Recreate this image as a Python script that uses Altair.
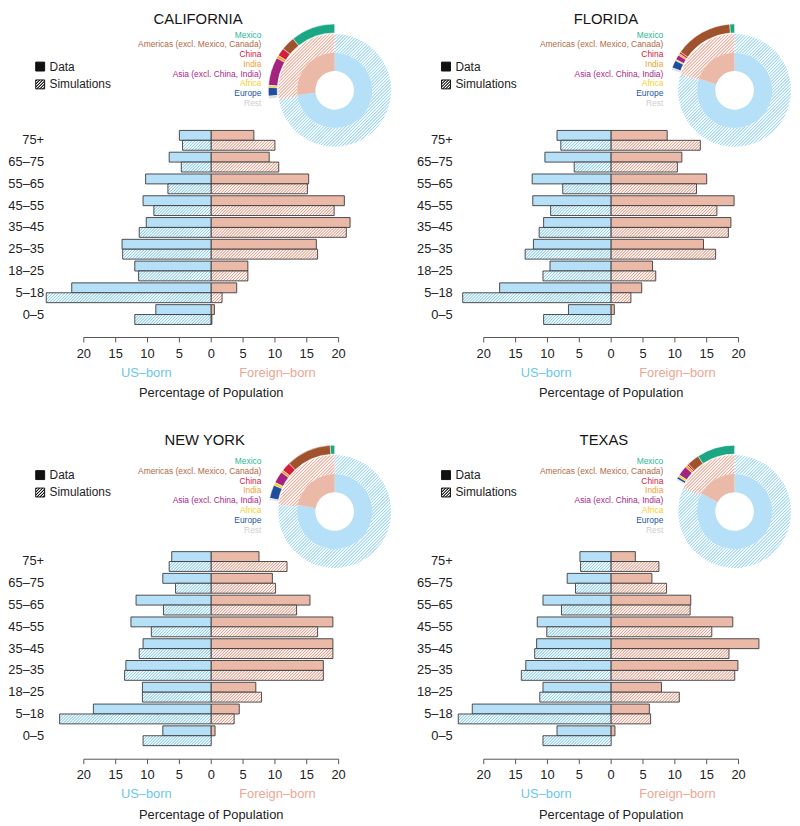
import math
import altair as alt

# ---------------- data ----------------
AGES = ["75+", "65–75", "55–65", "45–55", "35–45", "25–35", "18–25", "5–18", "0–5"]
TICKS = [-20, -15, -10, -5, 0, 5, 10, 15, 20]

CA_US_DATA = [5.0, 6.6, 10.3, 10.7, 10.2, 14.0, 12.0, 21.9, 8.7]
CA_US_SIM = [4.5, 4.7, 6.8, 9.0, 11.3, 13.9, 11.4, 25.9, 12.0]
CA_FB_DATA = [6.7, 9.1, 15.3, 20.9, 21.8, 16.5, 5.75, 4.0, 0.5]
CA_FB_SIM = [10.0, 10.6, 15.1, 19.3, 21.2, 16.7, 5.75, 1.7, 0.1]

FL_US_DATA = [8.5, 10.4, 12.4, 12.3, 10.6, 12.2, 9.6, 17.5, 6.7]
FL_US_SIM = [7.9, 5.8, 7.6, 9.5, 11.3, 13.5, 10.7, 23.3, 10.6]
FL_FB_DATA = [8.8, 11.1, 15.0, 19.3, 18.8, 14.5, 6.5, 4.8, 0.5]
FL_FB_SIM = [14.0, 10.4, 13.4, 16.6, 18.4, 16.4, 7.0, 3.1, 0.0]

NY_US_DATA = [6.2, 7.6, 11.8, 12.6, 10.7, 13.4, 10.8, 18.5, 7.6]
NY_US_SIM = [6.6, 5.6, 7.5, 9.4, 11.3, 13.6, 10.8, 23.8, 10.7]
NY_FB_DATA = [7.5, 9.6, 15.5, 19.1, 19.1, 17.6, 7.0, 4.4, 0.6]
NY_FB_SIM = [11.9, 10.1, 13.4, 16.7, 19.1, 17.6, 7.9, 3.6, 0.0]

TX_US_DATA = [4.9, 6.9, 10.7, 11.6, 11.7, 13.4, 10.7, 21.8, 8.5]
TX_US_SIM = [4.8, 5.6, 7.8, 10.1, 12.0, 14.1, 11.2, 24.0, 10.7]
TX_FB_DATA = [3.8, 6.4, 12.5, 19.1, 23.2, 19.9, 7.9, 6.0, 0.6]
TX_FB_SIM = [7.5, 8.7, 12.4, 15.8, 18.5, 19.4, 10.7, 6.2, 0.0]

REGIONS = ["Mexico", "Americas (excl. Mexico, Canada)", "China", "India",
           "Asia (excl. China, India)", "Africa", "Europe", "Rest"]
REGION_COLORS = ["#1ba784", "#a0522d", "#d31f3c", "#f4a11d",
                 "#a3237f", "#f7d21c", "#1f4e9e", "#d9d9d9"]
LABEL_COLORS = ["#2ab795", "#b06a48", "#d0203f", "#f2a032",
                "#a8288a", "#f5d02a", "#2456a6", "#cfcfcf"]

CA_REGIONS = [10.8, 3.4, 2.0, 0.7, 6.9, 0.5, 2.1, 0.6]
FL_REGIONS = [1.2, 14.0, 0.5, 0.4, 1.2, 0.3, 1.9, 0.5]
NY_REGIONS = [1.1, 11.0, 2.2, 0.6, 2.9, 0.7, 3.3, 0.4]
TX_REGIONS = [9.3, 3.0, 0.4, 0.6, 2.4, 0.5, 0.6, 0.3]

CA_SHARE_DATA, CA_SHARE_SIM = 27.0, 27.5
FL_SHARE_DATA, FL_SHARE_SIM = 20.0, 20.5
NY_SHARE_DATA, NY_SHARE_SIM = 22.2, 23.0
TX_SHARE_DATA, TX_SHARE_SIM = 17.1, 18.0

# ---------------- style ----------------
US_SOLID = "#b5e0f7"
FB_SOLID = "#ebb9a8"
US_LINE = "#8dcff2"
FB_LINE = "#eaa28e"
US_RING_LINE = "#9fd6f4"
FB_RING_LINE = "#efac9a"
BAR_STROKE = "#3a3a3a"
AXIS_COLOR = "#555555"
TEXT_COLOR = "#222222"
FONT = "Liberation Sans"

K = 6.435          # px per percentage point
X0 = 205.3         # px position of zero
XSCALE = alt.Scale(domain=[-26, 26], range=[X0 - 26 * K, X0 + 26 * K])
YSCALE = alt.Scale(type="band", domain=AGES, range=[119.5, 315.5],
                   paddingInner=2 / 22, paddingOuter=0)
BAR_H = 10.0
CX, CY = 330, 79
R0, R1, R2, R3, R4 = 19.5, 38, 57, 58, 67
PANEL_W = 388


def hatch(W, H, color, Q=3.0, bg="#ffffff"):
    """Diagonal '/' stripes as a linear gradient in the item's bounding box."""
    if W <= 0.3 or H <= 0.3:
        return bg
    L = W + H
    s = L * W / (W * W + H * H)
    stops = []
    k = 0
    while k * Q / L < 1:
        base = k * Q
        for frac, c in [(0.0, bg), (0.28, color), (0.46, color), (0.74, bg)]:
            off = (base + frac * Q) / L
            if off <= 1:
                stops.append({"offset": round(off, 5), "color": c})
        k += 1
    return {"gradient": "linear", "x1": 0, "y1": 0, "x2": round(s, 5),
            "y2": round(s * H / W, 5), "stops": stops}


def arc_bbox(t0, t1, r_in, r_out):
    xs, ys = [], []
    n = 240
    for i in range(n + 1):
        a = (t0 + (t1 - t0) * i / n) / 100 * 2 * math.pi
        for r in (r_in, r_out):
            xs.append(r * math.sin(a))
            ys.append(-r * math.cos(a))
    return max(xs) - min(xs), max(ys) - min(ys)


def theta_enc():
    return dict(theta=alt.Theta("t0:Q", scale=alt.Scale(domain=[0, 100]), stack=None),
                theta2=alt.Theta2("t1:Q"),
                x=alt.value(CX), y=alt.value(CY),
                color=alt.Color("fc:N", scale=None))


def panel(name, us_d, us_s, fb_d, fb_s, regions, share_d, share_s, lay):
    H = lay["H"]
    ax_y = lay["ax_y"]
    layers = []

    # title
    layers.append(alt.Chart(alt.Data(values=[{}])).mark_text(
        text=name, fontSize=15, baseline="top", align="center", color="#151515"
    ).encode(x=alt.value(lay["title_x"]), y=alt.value(0)))

    # legend
    lx = lay["leg_x"]
    for (ly, lab, fill) in [(lay["leg_y"][0], "Data", "#111111"),
                            (lay["leg_y"][1], "Simulations", hatch(9, 9, "#111111", Q=3.0))]:
        layers.append(alt.Chart(alt.Data(values=[{}])).mark_rect(
            fill=fill, stroke="#111111", strokeWidth=1
        ).encode(x=alt.value(lx), x2=alt.value(lx + 9), y=alt.value(ly - 4.5), y2=alt.value(ly + 4.5)))
        layers.append(alt.Chart(alt.Data(values=[{}])).mark_text(
            text=lab, fontSize=12, align="left", baseline="middle", color=TEXT_COLOR
        ).encode(x=alt.value(lx + 14), y=alt.value(ly)))

    # region labels
    for i, (reg, col) in enumerate(zip(REGIONS, LABEL_COLORS)):
        layers.append(alt.Chart(alt.Data(values=[{}])).mark_text(
            text=reg, fontSize=8.5, align="right", baseline="middle", color=col
        ).encode(x=alt.value(lay["reg_x"]), y=alt.value(lay["reg_y0"] + i * 9.86)))

    # simulation ring (hatched)
    recs = []
    for t0, t1, col in [(0, 100 - share_s, US_RING_LINE), (100 - share_s, 100, FB_RING_LINE)]:
        w, h = arc_bbox(t0, t1, R1, R2)
        recs.append({"t0": t0, "t1": t1, "fc": hatch(w, h, col, Q=3.2)})
    layers.append(alt.Chart(alt.Data(values=recs)).mark_arc(radius=R2, radius2=R1).encode(**theta_enc()))

    # data ring
    recs = [{"t0": 0, "t1": 100 - share_d, "fc": US_SOLID},
            {"t0": 100 - share_d, "t1": 100, "fc": FB_SOLID}]
    layers.append(alt.Chart(alt.Data(values=recs)).mark_arc(radius=R1, radius2=R0).encode(**theta_enc()))

    # region arc
    recs = []
    cum = 100.0
    for v, c in zip(regions, REGION_COLORS):
        recs.append({"t0": cum - v, "t1": cum, "fc": c})
        cum -= v
    layers.append(alt.Chart(alt.Data(values=recs)).mark_arc(
        radius=R4, radius2=R3, stroke="#ffffff", strokeWidth=0.5).encode(**theta_enc()))

    # bars
    recs = []
    for i, age in enumerate(AGES):
        for val, kind, solid, line in [(-us_d[i], "Data", US_SOLID, None),
                                       (-us_s[i], "Simulations", None, US_LINE),
                                       (fb_d[i], "Data", FB_SOLID, None),
                                       (fb_s[i], "Simulations", None, FB_LINE)]:
            if abs(val) < 0.05:
                continue
            fc = solid if solid else hatch(abs(val) * K, BAR_H, line, Q=3.0)
            recs.append({"age": age, "kind": kind, "val": val, "zero": 0, "fc": fc})
    layers.append(alt.Chart(alt.Data(values=recs)).mark_bar(
        stroke=BAR_STROKE, strokeWidth=0.9
    ).encode(
        x=alt.X("val:Q", scale=XSCALE, axis=None),
        x2=alt.X2("zero:Q"),
        y=alt.Y("age:N", scale=YSCALE, axis=None),
        yOffset=alt.YOffset("kind:N", scale=alt.Scale(domain=["Data", "Simulations"],
                                                       paddingInner=0, paddingOuter=0)),
        color=alt.Color("fc:N", scale=None),
    ))

    # x axis: line from -20 to 20, ticks, labels, title
    layers.append(alt.Chart(alt.Data(values=[{"a": TICKS[0], "b": TICKS[-1]}])).mark_rule(
        color=AXIS_COLOR, strokeWidth=1
    ).encode(x=alt.X("a:Q", scale=XSCALE, axis=None), x2=alt.X2("b:Q"), y=alt.value(ax_y)))
    tick_recs = [{"v": t, "lab": str(abs(t))} for t in TICKS]
    layers.append(alt.Chart(alt.Data(values=tick_recs)).mark_rule(
        color=AXIS_COLOR, strokeWidth=1
    ).encode(x=alt.X("v:Q", scale=XSCALE, axis=None), y=alt.value(ax_y), y2=alt.value(ax_y + 5)))
    layers.append(alt.Chart(alt.Data(values=tick_recs)).mark_text(
        fontSize=13, baseline="middle", align="center", color=TEXT_COLOR
    ).encode(x=alt.X("v:Q", scale=XSCALE, axis=None), y=alt.value(ax_y + 16.3), text="lab:N"))
    layers.append(alt.Chart(alt.Data(values=[{"v": 0, "t": "Percentage of Population"}])).mark_text(
        fontSize=13, baseline="middle", align="center", color=TEXT_COLOR
    ).encode(x=alt.X("v:Q", scale=XSCALE, axis=None), y=alt.value(ax_y + 56), text="t:N"))

    # age labels
    layers.append(alt.Chart(alt.Data(values=[{"age": a} for a in AGES])).mark_text(
        align="right", baseline="middle", fontSize=13, color=TEXT_COLOR
    ).encode(x=alt.value(lay["age_x"]), y=alt.Y("age:N", scale=YSCALE, axis=None), text="age:N"))

    # US-born / Foreign-born
    layers.append(alt.Chart(alt.Data(values=[
        {"lab": "US–born", "pos": -10.2, "c": "#6cc6ee"},
        {"lab": "Foreign–born", "pos": 10.4, "c": "#eea593"}])).mark_text(
        fontSize=13, baseline="middle", align="center"
    ).encode(x=alt.X("pos:Q", scale=XSCALE, axis=None), y=alt.value(lay["lab_y"]),
             text="lab:N", color=alt.Color("c:N", scale=None)))

    return alt.layer(*layers).properties(width=PANEL_W, height=H)


TOP = dict(H=420, ax_y=328.7, lab_y=364.7, leg_y=(55, 73), reg_y0=22.7)
BOT = dict(H=392, ax_y=329.2, lab_y=364.8, leg_y=(42.2, 59.8), reg_y0=28.2)
LEFT = dict(leg_x=28, reg_x=256, age_x=36.5)
RIGHT = dict(leg_x=34, reg_x=258, age_x=45.3)

ca = panel("CALIFORNIA", CA_US_DATA, CA_US_SIM, CA_FB_DATA, CA_FB_SIM, CA_REGIONS,
           CA_SHARE_DATA, CA_SHARE_SIM, {**TOP, **LEFT, "title_x": 192})
fl = panel("FLORIDA", FL_US_DATA, FL_US_SIM, FL_FB_DATA, FL_FB_SIM, FL_REGIONS,
           FL_SHARE_DATA, FL_SHARE_SIM, {**TOP, **RIGHT, "title_x": 200})
ny = panel("NEW YORK", NY_US_DATA, NY_US_SIM, NY_FB_DATA, NY_FB_SIM, NY_REGIONS,
           NY_SHARE_DATA, NY_SHARE_SIM, {**BOT, **LEFT, "title_x": 198.7})
tx = panel("TEXAS", TX_US_DATA, TX_US_SIM, TX_FB_DATA, TX_FB_SIM, TX_REGIONS,
           TX_SHARE_DATA, TX_SHARE_SIM, {**BOT, **RIGHT, "title_x": 198})

chart = alt.vconcat(
    alt.hconcat(ca, fl, spacing=16),
    alt.hconcat(ny, tx, spacing=16),
    spacing=5.5,
).properties(padding=0).configure(font=FONT).configure_view(strokeWidth=0)

chart.save("out.html", embed_options={"renderer": "svg", "actions": False})
